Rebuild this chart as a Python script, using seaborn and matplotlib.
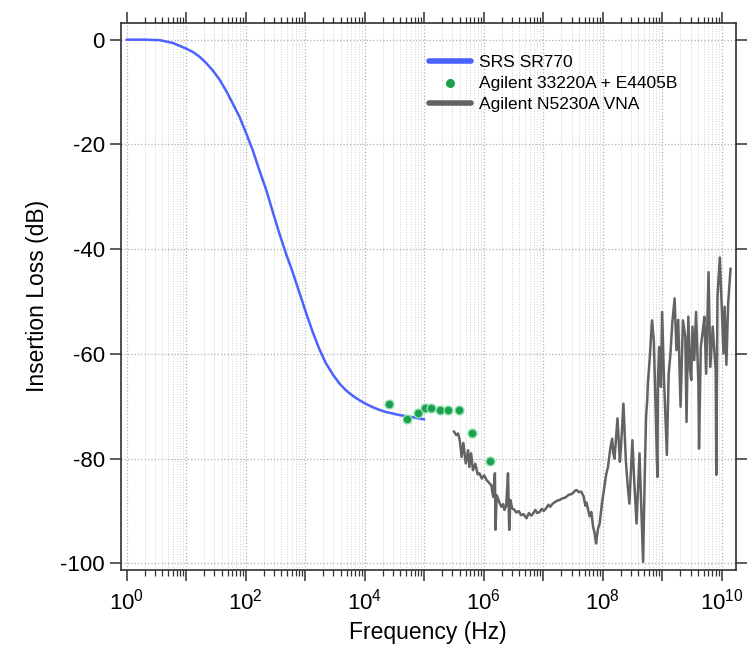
import numpy as np
import pandas as pd
import seaborn as sns
import matplotlib
matplotlib.use('Agg')
from matplotlib import pyplot as plt
from matplotlib.ticker import FixedLocator, FuncFormatter, MultipleLocator

sns.set_theme(style='ticks')
plt.rcParams['font.family'] = ['Liberation Sans', 'DejaVu Sans']
plt.rcParams['mathtext.fontset'] = 'custom'
plt.rcParams['mathtext.rm'] = 'Liberation Sans'
plt.rcParams['axes.unicode_minus'] = False
plt.rcParams['text.color'] = 'black'
plt.rcParams['axes.labelcolor'] = 'black'
plt.rcParams['xtick.labelcolor'] = 'black'
plt.rcParams['ytick.labelcolor'] = 'black'

# SRS SR770 (log10 of frequency in Hz, insertion loss in dB)
sr770_logf = [0.0, 0.3, 0.56, 0.78, 1.0, 1.12, 1.23, 1.34, 1.45, 1.56, 1.67, 1.78, 1.90,
              2.0, 2.12, 2.23, 2.35, 2.46, 2.57, 2.68, 2.80, 2.91, 3.02, 3.13, 3.24,
              3.35, 3.47, 3.58, 3.69, 3.80, 3.92, 4.03, 4.14, 4.25, 4.36, 4.48, 4.59,
              4.70, 4.81, 4.90, 5.0]
sr770_db = [0.0, 0.0, -0.1, -0.65, -1.7, -2.4, -3.3, -4.5, -5.9, -7.6, -9.7, -12.1, -14.8,
            -17.6, -21.1, -24.9, -28.8, -33.0, -37.1, -40.9, -44.7, -48.5, -52.3, -55.9, -59.1,
            -61.8, -64.0, -65.7, -67.0, -68.0, -68.9, -69.6, -70.2, -70.7, -71.1, -71.4, -71.7,
            -71.9, -72.1, -72.3, -72.5]

# Agilent 33220A + E4405B
e4405b_logf = [4.41, 4.71, 4.89, 5.01, 5.11, 5.27, 5.40, 5.58, 5.80, 6.10]
e4405b_db = [-69.5, -72.4, -71.3, -70.3, -70.3, -70.7, -70.8, -70.8, -75.1, -80.5]

# Agilent N5230A VNA
vna_logf = [5.50, 5.54, 5.57, 5.60, 5.63, 5.66, 5.70, 5.74, 5.76, 5.79, 5.82, 5.86,
            5.90, 5.93, 5.97, 6.01, 6.05, 6.09, 6.13, 6.16, 6.19, 6.20, 6.22, 6.24,
            6.27, 6.30, 6.33, 6.35, 6.38, 6.41, 6.43, 6.45, 6.48, 6.52, 6.55, 6.59,
            6.63, 6.67, 6.72, 6.76, 6.80, 6.83, 6.87, 6.90, 6.94, 6.98, 7.01, 7.05,
            7.09, 7.12, 7.16, 7.20, 7.24, 7.28, 7.32, 7.36, 7.39, 7.43, 7.47, 7.50,
            7.53, 7.56, 7.60, 7.64, 7.68, 7.71, 7.73, 7.76, 7.78, 7.81, 7.84, 7.87,
            7.89, 7.92, 7.95, 7.99, 8.03, 8.06, 8.09, 8.13, 8.16, 8.18, 8.20, 8.25,
            8.29, 8.31, 8.35, 8.37, 8.39, 8.42, 8.45, 8.50, 8.53, 8.57, 8.62, 8.68,
            8.71, 8.73, 8.75, 8.76, 8.79, 8.83, 8.86, 8.89, 8.92, 8.93, 8.95, 8.98,
            9.00, 9.03, 9.08, 9.11, 9.14, 9.17, 9.21, 9.24, 9.27, 9.31, 9.35, 9.39,
            9.41, 9.44, 9.47, 9.49, 9.51, 9.54, 9.57, 9.61, 9.62, 9.65, 9.68, 9.71,
            9.74, 9.78, 9.81, 9.85, 9.88, 9.90, 9.91, 9.93, 9.97, 10.00, 10.03, 10.05,
            10.08, 10.11, 10.15]
vna_db = [-74.8, -75.5, -75.2, -76.5, -79.7, -77.0, -80.9, -78.4, -81.6, -79.0, -82.2, -81.0,
          -83.0, -82.8, -83.8, -83.2, -84.1, -84.6, -85.1, -87.3, -82.8, -93.6, -87.0, -87.6,
          -88.5, -89.2, -88.7, -89.8, -89.0, -82.8, -93.6, -87.9, -89.5, -89.8, -90.3, -90.0,
          -90.8, -90.6, -91.4, -90.4, -90.9, -90.5, -89.8, -90.4, -90.2, -89.6, -90.0, -89.5,
          -88.8, -89.2, -88.6, -88.3, -88.0, -87.9, -87.6, -87.5, -87.3, -86.9, -86.8, -86.6,
          -86.2, -86.0, -86.4, -86.3, -87.2, -89.0, -88.4, -90.0, -91.0, -90.2, -93.0, -94.5,
          -96.2, -93.5, -92.4, -88.5, -85.4, -83.0, -81.6, -78.0, -76.2, -79.0, -80.0, -72.3,
          -80.6, -77.7, -69.5, -75.0, -80.3, -85.0, -88.6, -76.5, -84.0, -92.4, -79.0, -99.7,
          -82.2, -72.0, -68.8, -65.7, -61.2, -53.6, -57.4, -70.0, -83.5, -65.0, -58.7, -66.3,
          -52.0, -64.4, -79.3, -63.8, -60.0, -54.2, -49.4, -59.3, -53.5, -70.1, -53.6, -56.8,
          -73.0, -52.9, -63.0, -65.0, -54.8, -61.2, -52.0, -65.7, -78.1, -58.7, -56.0, -52.9,
          -63.8, -44.4, -62.5, -54.8, -60.0, -63.2, -83.1, -49.1, -41.6, -50.4, -59.9, -51.0,
          -62.1, -50.4, -43.7]

decades = list(range(0, 11))

sr770 = pd.DataFrame({'freq': 10 ** np.array(sr770_logf), 'loss': sr770_db})
e4405b = pd.DataFrame({'freq': 10 ** np.array(e4405b_logf), 'loss': e4405b_db})
vna = pd.DataFrame({'freq': 10 ** np.array(vna_logf), 'loss': vna_db})

fig = plt.figure(figsize=(7.54, 6.54), dpi=100)
ax = fig.add_axes([0.160, 0.129, 0.816, 0.836])

sns.lineplot(data=sr770, x='freq', y='loss', ax=ax, color='#4a62ff', lw=1.8,
             estimator=None, label='SRS SR770')
sns.scatterplot(data=e4405b, x='freq', y='loss', ax=ax, color='#1aa04f',
                edgecolor='#8fe0ad', linewidth=1.0, s=40, zorder=5,
                label='Agilent 33220A + E4405B')
sns.lineplot(data=vna, x='freq', y='loss', ax=ax, color='#636363', lw=1.8,
             estimator=None, sort=False, label='Agilent N5230A VNA')

ax.set_xscale('log')
ax.set_xlim(10 ** -0.1, 10 ** 10.24)
ax.set_ylim(-101.2, 3.2)

major = [10.0 ** d for d in decades]
minor = [m * 10.0 ** d for d in decades for m in range(2, 10)]
ax.xaxis.set_major_locator(FixedLocator(major))
ax.xaxis.set_minor_locator(FixedLocator([v for v in minor if v < 10 ** 10.24]))
ax.xaxis.set_major_formatter(FuncFormatter(
    lambda v, p: r'$\mathdefault{10^{%d}}$' % round(np.log10(v)) if round(np.log10(v)) % 2 == 0 else ''))
ax.xaxis.set_minor_formatter(FuncFormatter(lambda v, p: ''))
ax.yaxis.set_major_locator(MultipleLocator(20))

ax.tick_params(axis='both', which='major', direction='out', length=8, width=1.1,
               color='#303030', labelcolor='black', labelsize=16, top=True, right=True)
ax.tick_params(axis='x', which='minor', direction='out', length=4, width=0.9,
               color='#303030', top=True)
ax.tick_params(axis='x', which='major', pad=6)

ax.grid(True, which='major', axis='both', ls=':', lw=0.9, color='#b0b0b0')
ax.grid(True, which='minor', axis='x', ls=':', lw=0.7, color='#cfcfcf')
for s in ax.spines.values():
    s.set_color('#303030')
    s.set_linewidth(1.2)

ax.set_xlabel('Frequency (Hz)', fontsize=16.5, color='black')
ax.set_ylabel('Insertion Loss (dB)', fontsize=16.5, labelpad=8, color='black')

leg = ax.legend(loc='upper left', bbox_to_anchor=(0.49, 0.955), frameon=False,
                fontsize=12.5, handlelength=2.4, handletextpad=0.5, labelspacing=0.35,
                borderaxespad=0)
for t in leg.get_texts():
    t.set_color('black')
for h in leg.legend_handles:
    if hasattr(h, 'set_sizes'):
        h.set_sizes([30])
        h.set_edgecolor('#1aa04f')
    elif hasattr(h, 'set_linewidth'):
        h.set_linewidth(4)

fig.savefig('out.png', dpi=100)
